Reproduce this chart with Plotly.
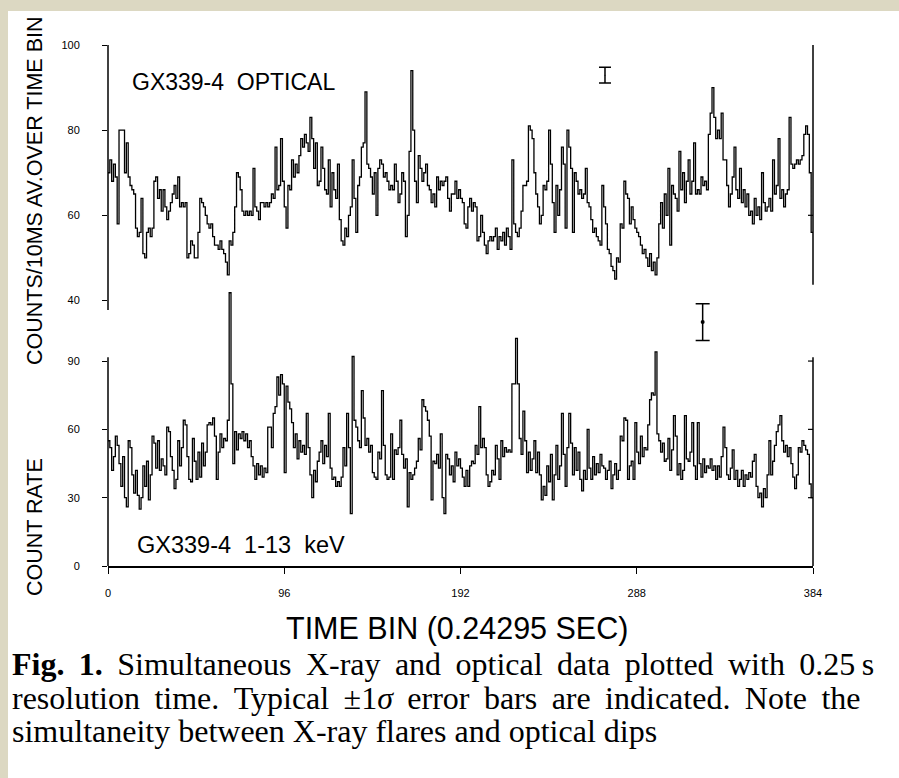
import plotly.graph_objects as go

# ---------------- data ----------------
optical = [
    70, 73, 68, 72, 69, 58, 80, 80,
    80, 70, 77, 69, 67, 66, 65, 57,
    55, 56, 64, 51, 50, 56, 57, 55,
    57, 68, 69, 64, 66, 61, 66, 62,
    59, 61, 63, 65, 67, 64, 69, 62,
    63, 62, 63, 50, 51, 54, 53, 50,
    50, 56, 64, 63, 62, 60, 58, 57,
    58, 55, 53, 53, 52, 54, 52, 51,
    49, 46, 54, 53, 56, 62, 70, 69,
    66, 61, 60, 61, 60, 61, 60, 71,
    62, 61, 59, 63, 63, 62, 63, 62,
    63, 65, 64, 76, 66, 67, 78, 68,
    62, 57, 67, 66, 73, 69, 72, 70,
    74, 78, 76, 79, 77, 75, 83, 78,
    71, 77, 67, 68, 76, 71, 66, 65,
    73, 62, 70, 66, 64, 72, 59, 54,
    53, 57, 55, 60, 62, 73, 64, 56,
    67, 69, 76, 77, 89, 72, 71, 69,
    65, 70, 60, 71, 73, 72, 69, 70,
    68, 66, 67, 66, 72, 68, 63, 65,
    70, 68, 55, 60, 75, 94, 80, 68,
    63, 74, 71, 68, 70, 72, 67, 66,
    63, 65, 62, 69, 66, 68, 67, 68,
    69, 64, 61, 65, 65, 68, 64, 66,
    64, 63, 58, 57, 62, 64, 61, 63,
    62, 54, 55, 60, 56, 53, 51, 54,
    55, 54, 55, 57, 52, 55, 54, 56,
    53, 57, 55, 52, 73, 58, 56, 55,
    57, 61, 67, 67, 68, 81, 80, 78,
    70, 65, 62, 58, 60, 67, 66, 68,
    80, 72, 63, 56, 67, 60, 66, 76,
    72, 57, 80, 76, 71, 56, 70, 68,
    65, 66, 64, 65, 71, 63, 62, 59,
    56, 57, 55, 54, 53, 67, 62, 58,
    52, 51, 48, 47, 45, 50, 49, 58,
    57, 68, 65, 64, 58, 62, 59, 57,
    56, 55, 53, 51, 52, 50, 48, 51,
    47, 49, 46, 50, 58, 63, 57, 65,
    60, 71, 53, 67, 65, 64, 61, 75,
    66, 70, 63, 68, 73, 65, 68, 77,
    65, 66, 65, 69, 67, 68, 66, 79,
    84, 90, 83, 78, 80, 78, 84, 73,
    73, 67, 62, 65, 69, 76, 66, 64,
    71, 63, 66, 62, 65, 60, 61, 58,
    64, 60, 62, 59, 70, 63, 61, 62,
    64, 61, 73, 65, 67, 78, 64, 66,
    62, 65, 66, 83, 72, 71, 72, 73,
    72, 73, 74, 79, 81, 79, 70, 56,
]

xray = [
    55, 52, 42, 48, 57, 53, 45, 35,
    48, 30, 26, 55, 52, 40, 32, 42,
    31, 25, 30, 44, 35, 46, 29, 40,
    57, 54, 43, 55, 42, 47, 44, 40,
    61, 59, 48, 42, 34, 38, 55, 44,
    52, 64, 62, 48, 38, 37, 56, 46,
    38, 50, 39, 54, 44, 50, 62, 63,
    62, 65, 57, 38, 50, 58, 52, 56,
    55, 64, 120, 80, 45, 59, 51, 58,
    56, 59, 55, 58, 52, 55, 48, 44,
    38, 45, 40, 44, 39, 43, 41, 61,
    61, 52, 67, 70, 83, 75, 84, 80,
    41, 79, 72, 69, 63, 52, 58, 47,
    55, 50, 53, 49, 67, 52, 40, 30,
    42, 37, 46, 50, 55, 45, 53, 48,
    67, 43, 38, 39, 35, 37, 35, 39,
    52, 44, 67, 52, 23, 92, 64, 61,
    55, 52, 77, 65, 53, 56, 50, 53,
    41, 39, 38, 50, 47, 77, 53, 40,
    38, 39, 58, 38, 51, 49, 52, 64,
    49, 43, 47, 26, 41, 38, 40, 43,
    46, 56, 51, 73, 70, 68, 64, 57,
    29, 46, 45, 49, 43, 58, 30, 23,
    49, 47, 40, 44, 37, 50, 44, 47,
    43, 39, 35, 42, 35, 44, 46, 45,
    53, 49, 70, 52, 56, 52, 40, 35,
    37, 42, 40, 53, 47, 38, 55, 48,
    52, 50, 51, 50, 80, 80, 100, 80,
    56, 49, 68, 55, 41, 50, 42, 47,
    55, 41, 50, 40, 29, 35, 31, 44,
    37, 49, 29, 40, 53, 38, 44, 67,
    49, 35, 52, 67, 54, 40, 52, 42,
    50, 38, 33, 42, 38, 60, 43, 38,
    48, 40, 45, 41, 49, 44, 43, 38,
    42, 46, 34, 40, 45, 38, 42, 57,
    55, 65, 64, 38, 44, 46, 38, 63,
    50, 45, 57, 48, 52, 51, 62, 73,
    76, 75, 94, 58, 55, 50, 54, 46,
    47, 56, 42, 51, 66, 57, 40, 45,
    38, 42, 66, 47, 46, 50, 63, 44,
    38, 63, 45, 39, 47, 41, 44, 43,
    47, 42, 44, 38, 44, 39, 48, 61,
    52, 40, 38, 43, 51, 38, 42, 35,
    38, 42, 35, 40, 38, 41, 39, 46,
    49, 35, 30, 32, 26, 34, 30, 40,
    55, 40, 46, 53, 59, 62, 66, 55,
    50, 53, 48, 52, 45, 39, 34, 40,
    52, 50, 55, 53, 51, 49, 36, 30,
]

x_tick_vals = [0, 96, 192, 288, 384]
opt_tick_vals = [40, 60, 80, 100]
xray_tick_vals = [0, 30, 60, 90]

# typical +-1 sigma error bars
opt_err_bin, opt_err_val, opt_err_sigma = 270.7, 92.9, 1.85
xray_err_bin, xray_err_val, xray_err_sigma = 323.9, 107.1, 8.1

# ---------------- geometry ----------------
W, H = 899, 778
L, R, T, B = 108, 86, 45, 212
PW, PH = W - L - R, H - T - B
N = len(optical)

OPT_RANGE = [37.76, 100]
XR_RANGE = [0, 123.4]


def xp(px):
    return (px - L) / PW


def yp(py):
    return (H - B - py) / PH


opt_dom = [yp(310), 1.0]
xr_dom = [0.0, yp(285)]


def opt_y(v):
    f = (v - OPT_RANGE[0]) / (OPT_RANGE[1] - OPT_RANGE[0])
    return opt_dom[0] + f * (opt_dom[1] - opt_dom[0])


def xr_y(v):
    f = (v - XR_RANGE[0]) / (XR_RANGE[1] - XR_RANGE[0])
    return xr_dom[0] + f * (xr_dom[1] - xr_dom[0])


def steps(vals):
    xs = list(range(len(vals))) + [len(vals)]
    ys = list(vals) + [vals[-1]]
    return xs, ys


fig = go.Figure()

ox, oy = steps(optical)
fig.add_trace(go.Scatter(x=ox, y=oy, mode="lines", line=dict(color="black", width=1.3, shape="hv"),
                         xaxis="x", yaxis="y", hoverinfo="skip", showlegend=False))
rx, ry = steps(xray)
fig.add_trace(go.Scatter(x=rx, y=ry, mode="lines", line=dict(color="black", width=1.3, shape="hv"),
                         xaxis="x", yaxis="y2", hoverinfo="skip", showlegend=False))

fig.add_trace(go.Scatter(x=[opt_err_bin], y=[opt_err_val], mode="markers",
                         marker=dict(size=1, color="black"),
                         error_y=dict(type="data", array=[opt_err_sigma], color="black", thickness=1.5, width=6),
                         xaxis="x", yaxis="y", hoverinfo="skip", showlegend=False))
fig.add_trace(go.Scatter(x=[xray_err_bin], y=[xray_err_val], mode="markers",
                         marker=dict(size=4, color="black"),
                         error_y=dict(type="data", array=[xray_err_sigma], color="black", thickness=1.5, width=7),
                         xaxis="x", yaxis="y2", hoverinfo="skip", showlegend=False))

tick_font = dict(family="Liberation Sans Narrow, Liberation Sans, Arial, sans-serif", size=11, color="black")

fig.update_layout(
    width=W, height=H,
    margin=dict(l=L, r=R, t=T, b=B, pad=0),
    paper_bgcolor="white", plot_bgcolor="rgba(0,0,0,0)",
    showlegend=False,
    xaxis=dict(domain=[0, 1], range=[0, N], anchor="y2", showline=True, linecolor="black", linewidth=1.5,
               ticks="outside", ticklen=6, tickwidth=1.2, tickcolor="black", tickvals=x_tick_vals,
               ticktext=[str(v) for v in x_tick_vals], tickfont=tick_font, ticklabelstandoff=10,
               showgrid=False, zeroline=False, fixedrange=True),
    xaxis2=dict(domain=[0, 1], range=[0, N], anchor="y", side="top", showline=True, linecolor="black",
                linewidth=1.5, ticks="inside", ticklen=5, tickwidth=1.2, tickcolor="black",
                tickvals=x_tick_vals[1:-1], showticklabels=False, showgrid=False, zeroline=False,
                matches="x"),
    yaxis=dict(domain=opt_dom, range=OPT_RANGE, anchor="x", showline=False, ticks="outside", ticklen=5,
               tickwidth=1.2, tickcolor="black", tickvals=opt_tick_vals, tickfont=tick_font,
               ticklabelstandoff=20, showgrid=False, zeroline=False),
    yaxis2=dict(domain=xr_dom, range=XR_RANGE, anchor="x", showline=False, ticks="outside", ticklen=5,
                tickwidth=1.2, tickcolor="black", tickvals=xray_tick_vals, tickfont=tick_font,
                ticklabelstandoff=20, showgrid=False, zeroline=False),
)

line_style = dict(color="black", width=1.5)
shapes = [
    # optical panel frame
    dict(type="line", xref="paper", yref="paper", x0=0, x1=0, y0=opt_dom[0], y1=1, line=line_style),
    dict(type="line", xref="paper", yref="paper", x0=1, x1=1, y0=opt_y(43.7), y1=1, line=line_style),
    dict(type="line", xref="paper", yref="paper", x0=1 - 5 / PW, x1=1, y0=opt_y(60), y1=opt_y(60),
         line=dict(color="black", width=1.2)),
    # x-ray panel frame
    dict(type="line", xref="paper", yref="paper", x0=0, x1=0, y0=0, y1=xr_y(91.7), line=line_style),
    dict(type="line", xref="paper", yref="paper", x0=1, x1=1, y0=0, y1=xr_y(91.7), line=line_style),
]
for v in xray_tick_vals[1:]:
    shapes.append(dict(type="line", xref="paper", yref="paper", x0=1 - 5 / PW, x1=1, y0=xr_y(v), y1=xr_y(v),
                       line=dict(color="black", width=1.2)))
# beige page edges
shapes.append(dict(type="rect", xref="paper", yref="paper", x0=xp(0), x1=xp(W), y0=yp(11), y1=yp(0),
                   fillcolor="#dcd8c2", line=dict(width=0), layer="below"))
shapes.append(dict(type="rect", xref="paper", yref="paper", x0=xp(0), x1=xp(8), y0=yp(H), y1=yp(0),
                   fillcolor="#dcd8c2", line=dict(width=0), layer="below"))
fig.update_layout(shapes=shapes)

sans = "Liberation Sans, Arial, sans-serif"
serif = "Liberation Serif, Times New Roman, serif"
gap = " \u2009"  # widened word gap imitating the justified caption
caption_1 = gap.join(["<b>Fig.", "1.</b>", "Simultaneous", "X-ray", "and", "optical", "data", "plotted",
                      "with", "0.25\u2009s"])
caption_2 = gap.join(["resolution", "time.", "Typical", "\u00b11<i>\u03c3</i>", "error", "bars", "are",
                      "indicated.", "Note", "the"])
caption_3 = "simultaneity between X-ray flares and optical dips"

ann = [
    dict(text="COUNTS/10MS AV.OVER TIME BIN", x=xp(35), y=yp(191), textangle=-90,
         font=dict(family=sans, size=21.5, color="black")),
    dict(text="COUNT RATE", x=xp(35), y=yp(527), textangle=-90,
         font=dict(family=sans, size=21.5, color="black")),
    dict(text="GX339-4  OPTICAL", x=xp(130), y=yp(82), xanchor="left",
         font=dict(family=sans, size=23, color="black")),
    dict(text="GX339-4  1-13  keV", x=xp(135), y=yp(545), xanchor="left",
         font=dict(family=sans, size=23.5, color="black")),
    dict(text="TIME BIN (0.24295 SEC)", x=xp(457), y=yp(628),
         font=dict(family=sans, size=30.5, color="black")),
    dict(text=caption_1, x=xp(10), y=yp(664), xanchor="left", font=dict(family=serif, size=32, color="black")),
    dict(text=caption_2, x=xp(10), y=yp(698), xanchor="left", font=dict(family=serif, size=32, color="black")),
    dict(text=caption_3, x=xp(10), y=yp(731), xanchor="left", font=dict(family=serif, size=32, color="black")),
]
for a in ann:
    a.setdefault("xanchor", "center")
    a.update(xref="paper", yref="paper", yanchor="middle", showarrow=False)
fig.update_layout(annotations=ann)

fig.write_html("out.html")
